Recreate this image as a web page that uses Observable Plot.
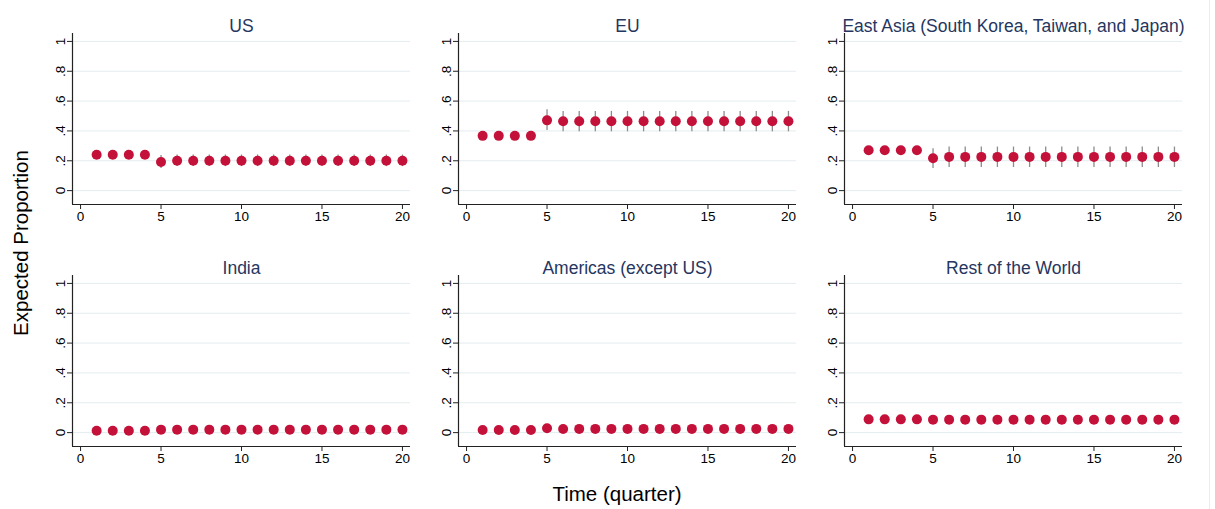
<!DOCTYPE html>
<html>
<head>
<meta charset="utf-8">
<script src="https://cdn.jsdelivr.net/npm/d3@7"></script>
<script src="https://cdn.jsdelivr.net/npm/@observablehq/plot@0.6"></script>
<style>
  html, body { margin: 0; padding: 0; background: #fff; }
  #wrap { position: relative; width: 1215px; height: 509px; font-family: "Liberation Sans", Arial, sans-serif; }
  #ylab { position: absolute; left: 21px; top: 243px; transform: translate(-50%, -50%) rotate(-90deg); font-size: 20.5px; color: #000; white-space: nowrap; }
  #xlab { position: absolute; left: 617px; top: 494px; transform: translate(-50%, -50%); font-size: 20.5px; color: #000; white-space: nowrap; }
  #edge { position: absolute; left: 1209px; top: 0; width: 1px; height: 509px; background: #e6edf1; }
</style>
</head>
<body>
<div id="wrap">
  <div id="chart"></div>
  <div id="ylab">Expected Proportion</div>
  <div id="xlab">Time (quarter)</div>
  <div id="edge"></div>
</div>
<script>
// Panel names, in reading order
const regions = ["US", "EU", "East Asia (South Korea, Taiwan, and Japan)", "India", "Americas (except US)", "Rest of the World"];
const quarters = [1,2,3,4,5,6,7,8,9,10,11,12,13,14,15,16,17,18,19,20];
const xTicks = [0, 5, 10, 15, 20];
const yTicks = [0, 0.2, 0.4, 0.6, 0.8, 1];
const yTickLabels = ["0", ".2", ".4", ".6", ".8", "1"];

// Expected proportions (point estimates) per quarter
const usEst  = [0.241,0.241,0.241,0.241,0.192,0.200,0.200,0.200,0.200,0.200,0.200,0.200,0.200,0.200,0.200,0.200,0.200,0.200,0.200,0.200];
const usLo   = [0.241,0.241,0.241,0.241,0.149,0.161,0.161,0.161,0.161,0.161,0.161,0.161,0.161,0.161,0.161,0.161,0.161,0.161,0.161,0.161];
const usHi   = [0.241,0.241,0.241,0.241,0.236,0.239,0.239,0.239,0.239,0.239,0.239,0.239,0.239,0.239,0.239,0.239,0.239,0.239,0.239,0.239];

const euEst  = [0.367,0.367,0.367,0.367,0.471,0.465,0.465,0.465,0.465,0.465,0.465,0.465,0.465,0.465,0.465,0.465,0.465,0.465,0.465,0.465];
const euLo   = [0.367,0.367,0.367,0.367,0.403,0.394,0.394,0.394,0.394,0.394,0.394,0.394,0.394,0.394,0.394,0.394,0.394,0.394,0.394,0.394];
const euHi   = [0.367,0.367,0.367,0.367,0.542,0.531,0.531,0.531,0.531,0.531,0.531,0.531,0.531,0.531,0.531,0.531,0.531,0.531,0.531,0.531];

const eaEst  = [0.270,0.270,0.270,0.270,0.217,0.226,0.226,0.226,0.226,0.226,0.226,0.226,0.226,0.226,0.226,0.226,0.226,0.226,0.226,0.226];
const eaLo   = [0.270,0.270,0.270,0.270,0.148,0.155,0.155,0.155,0.155,0.155,0.155,0.155,0.155,0.155,0.155,0.155,0.155,0.155,0.155,0.155];
const eaHi   = [0.270,0.270,0.270,0.270,0.281,0.292,0.292,0.292,0.292,0.292,0.292,0.292,0.292,0.292,0.292,0.292,0.292,0.292,0.292,0.292];

const inEst  = [0.013,0.013,0.013,0.013,0.020,0.020,0.020,0.020,0.020,0.020,0.020,0.020,0.020,0.020,0.020,0.020,0.020,0.020,0.020,0.020];
const inLo   = [0.013,0.013,0.013,0.013,0.015,0.015,0.015,0.015,0.015,0.015,0.015,0.015,0.015,0.015,0.015,0.015,0.015,0.015,0.015,0.015];
const inHi   = [0.013,0.013,0.013,0.013,0.025,0.025,0.025,0.025,0.025,0.025,0.025,0.025,0.025,0.025,0.025,0.025,0.025,0.025,0.025,0.025];

const amEst  = [0.018,0.018,0.018,0.018,0.029,0.024,0.025,0.025,0.025,0.025,0.025,0.025,0.025,0.025,0.025,0.025,0.025,0.025,0.025,0.025];
const amLo   = [0.018,0.018,0.018,0.018,0.022,0.019,0.020,0.020,0.020,0.020,0.020,0.020,0.020,0.020,0.020,0.020,0.020,0.020,0.020,0.020];
const amHi   = [0.018,0.018,0.018,0.018,0.036,0.030,0.030,0.030,0.030,0.030,0.030,0.030,0.030,0.030,0.030,0.030,0.030,0.030,0.030,0.030];

const rwEst  = [0.089,0.089,0.089,0.089,0.087,0.087,0.087,0.087,0.087,0.087,0.087,0.087,0.087,0.087,0.087,0.087,0.087,0.087,0.087,0.087];
const rwLo   = [0.089,0.089,0.089,0.089,0.080,0.080,0.080,0.080,0.080,0.080,0.080,0.080,0.080,0.080,0.080,0.080,0.080,0.080,0.080,0.080];
const rwHi   = [0.089,0.089,0.089,0.089,0.094,0.094,0.094,0.094,0.094,0.094,0.094,0.094,0.094,0.094,0.094,0.094,0.094,0.094,0.094,0.094];

const series = [
  [usEst, usLo, usHi], [euEst, euLo, euHi], [eaEst, eaLo, eaHi],
  [inEst, inLo, inHi], [amEst, amLo, amHi], [rwEst, rwLo, rwHi]
];

const panels = regions.map((name, i) => ({name, col: i % 3, row: Math.floor(i / 3)}));
const rows = [];
series.forEach(([est, lo, hi], i) => {
  quarters.forEach((q, j) => {
    rows.push({region: regions[i], col: i % 3, row: Math.floor(i / 3), q, est: est[j], lo: lo[j], hi: hi[j]});
  });
});

const xMin = -0.5, xMax = 20.5, yMin = -0.093, yMax = 1.053;
const font = "'Liberation Sans', Arial, sans-serif";

const chart = Plot.plot({
  width: 1215,
  height: 509,
  marginLeft: 72,
  marginRight: 33,
  marginTop: 32,
  marginBottom: 62,
  style: {fontFamily: font, fontSize: "13.5px", color: "#000", background: "#fff"},
  fx: {domain: [0, 1, 2], paddingInner: 0.1244, paddingOuter: 0, axis: null},
  fy: {domain: [0, 1], paddingInner: 0.292, paddingOuter: 0, axis: null},
  x: {domain: [xMin, xMax], label: null},
  y: {domain: [yMin, yMax], label: null},
  marks: [
    Plot.gridY({ticks: yTicks, stroke: "#e4ecef", strokeOpacity: 1, strokeWidth: 1}),
    Plot.ruleY([yMin], {stroke: "#222", strokeWidth: 1.2}),
    Plot.ruleX([xMin], {stroke: "#222", strokeWidth: 1.2}),
    Plot.axisX({ticks: xTicks, tickSize: 5, tickPadding: 2, facetAnchor: null, fontSize: 13.5, stroke: "#222", label: null}),
    Plot.axisY({ticks: yTicks, tickFormat: (d) => yTickLabels[yTicks.indexOf(d)], tickSize: 5, tickPadding: 3, tickRotate: -90, facetAnchor: null, fontSize: 13.5, stroke: "#222", label: null}),
    Plot.ruleX(rows, {x: "q", y1: "lo", y2: "hi", fx: "col", fy: "row", stroke: "#8c8c8c", strokeWidth: 1.3}),
    Plot.dot(rows, {x: "q", y: "est", fx: "col", fy: "row", r: 5, fill: "#c4113a", stroke: "none"}),
    Plot.text(panels, {fx: "col", fy: "row", text: "name", frameAnchor: "top", dy: -14, fontSize: 17.5, fill: "#25365f", fontFamily: font})
  ]
});
document.getElementById("chart").appendChild(chart);
</script>
</body>
</html>
